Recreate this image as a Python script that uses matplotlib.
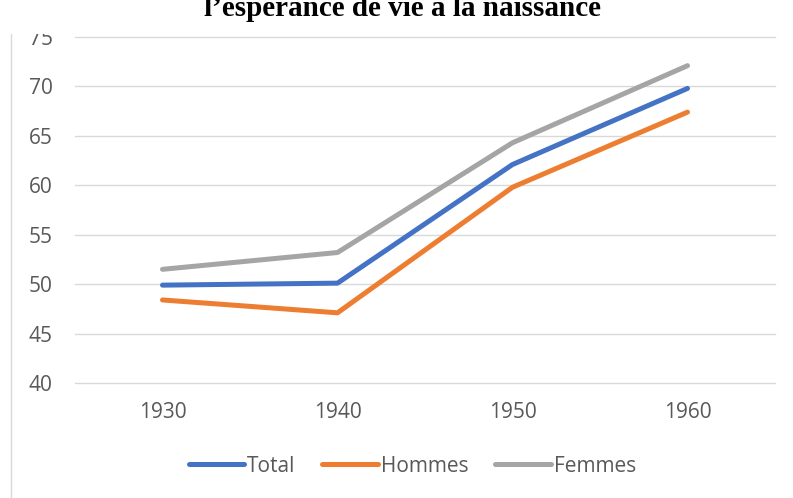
import matplotlib.pyplot as plt
from matplotlib.lines import Line2D
from matplotlib.patches import Rectangle

# Espérance de vie à la naissance (années)
years = ['1930', '1940', '1950', '1960']
total = [49.9, 50.1, 62.1, 69.8]
hommes = [48.4, 47.1, 59.8, 67.4]
femmes = [51.5, 53.2, 64.3, 72.1]

colors = {'Total': '#4472C4', 'Hommes': '#ED7D31', 'Femmes': '#A5A5A5'}
txt_color = '#595959'

fig = plt.figure(figsize=(7.93, 4.98), dpi=100)
ax = fig.add_axes([75 / 793, 1 - 383 / 498, 700 / 793, 346 / 498])

x = range(len(years))
for name, vals in [('Total', total), ('Hommes', hommes), ('Femmes', femmes)]:
    ax.plot(x, vals, color=colors[name], linewidth=3.6, solid_capstyle='round',
            solid_joinstyle='round', label=name)

ax.set_xlim(-0.5, len(years) - 0.5)
ax.set_ylim(40, 75)
ax.set_yticks(range(40, 76, 5))
ax.set_xticks(list(x))
ax.set_xticklabels(years)
ax.grid(axis='y', color='#D9D9D9', linewidth=1)
for gl in ax.get_ygridlines():
    gl.set_clip_on(False)
ax.set_axisbelow(True)
for s in ax.spines.values():
    s.set_visible(False)
ax.tick_params(length=0, labelsize=15, labelcolor=txt_color, pad=14)
ax.tick_params(axis='y', pad=16)
for lab in ax.get_xticklabels() + ax.get_yticklabels():
    lab.set_family('Open Sans')

# le haut du graphique est coupé dans l'original (haut du "75" masqué)
fig.add_artist(Rectangle((0, 1 - 34 / 498), 70 / 793, 34 / 498, transform=fig.transFigure,
                         facecolor='white', edgecolor='none', zorder=5))

# titre (coupé en haut dans l'original)
fig.text(0.508, 1 - 16 / 498, 'l\u2019espérance de vie à la naissance', ha='center',
         va='baseline', fontsize=21, fontweight='bold', family='Liberation Serif', zorder=6)

# trait vertical à gauche
fig.add_artist(Line2D([11 / 793, 11 / 793], [0, 1 - 34 / 498], color='#D9D9D9', linewidth=1))

handles = [Line2D([0], [0], color=colors[n], linewidth=3.6, solid_capstyle='round')
           for n in ['Total', 'Hommes', 'Femmes']]
leg = fig.legend(handles, ['Total', 'Hommes', 'Femmes'], loc='center',
                 bbox_to_anchor=(0.52, 1 - 466 / 498), ncol=3, frameon=False,
                 handlelength=2.65, handletextpad=0.15, columnspacing=1.3,
                 prop={'family': 'Open Sans', 'size': 15})
for t in leg.get_texts():
    t.set_color(txt_color)

fig.savefig('out.png', dpi=100)
